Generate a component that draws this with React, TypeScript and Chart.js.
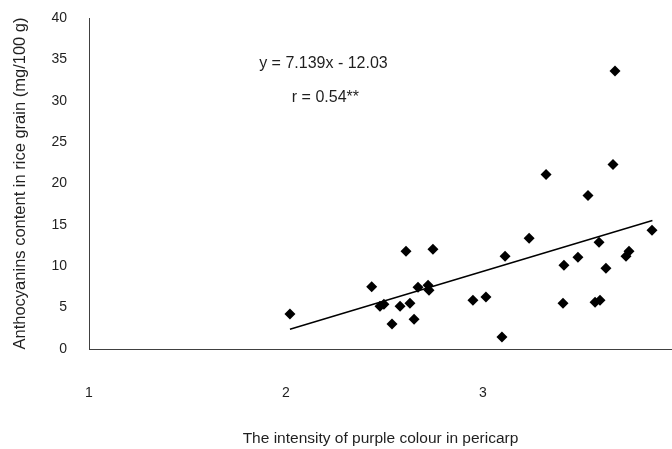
import React, { useEffect, useRef } from 'react';
import { Chart, registerables } from 'chart.js';

Chart.register(...registerables);

// Purple colour intensity (x) vs anthocyanin content (y)
const intensityValues = [
  2.02, 2.435, 2.477, 2.497, 2.538, 2.579, 2.609, 2.629, 2.65, 2.67, 2.721,
  2.726, 2.746, 2.949, 3.015, 3.096, 3.112, 3.234, 3.32, 3.406, 3.411, 3.482,
  3.533, 3.569, 3.589, 3.594, 3.624, 3.66, 3.67, 3.726, 3.741, 3.858,
];
const anthocyaninValues = [
  4.22, 7.51, 5.18, 5.42, 3.01, 5.18, 11.81, 5.54, 3.61, 7.47, 7.71,
  7.11, 12.05, 5.9, 6.27, 1.45, 11.2, 13.37, 21.08, 5.54, 10.12, 11.08,
  18.55, 5.66, 12.89, 5.9, 9.76, 22.29, 33.61, 11.2, 11.81, 14.34,
];
// Linear trend line end points (y = 7.139x - 12.03)
const trendX = [2.02, 3.86];
const trendY = [2.39, 15.53];

const xTickValues = [1, 2, 3, 4];
const yTickValues = [0, 5, 10, 15, 20, 25, 30, 35, 40];

const equationLabel = 'y = 7.139x - 12.03';
const correlationLabel = 'r = 0.54**';
const xAxisTitle = 'The intensity of purple colour in pericarp';
const yAxisTitle = 'Anthocyanins content in rice grain (mg/100 g)';

const FONT = "'Liberation Sans', Arial, sans-serif";
const TEXT = '#1f1f1f';

export default function App() {
  const ref = useRef<HTMLCanvasElement | null>(null);

  useEffect(() => {
    if (!ref.current) return;
    const annotation = {
      id: 'annotation',
      afterDatasetsDraw(chart: any) {
        const { ctx, scales } = chart;
        ctx.save();
        ctx.fillStyle = TEXT;
        ctx.font = `16px ${FONT}`;
        ctx.textAlign = 'center';
        ctx.textBaseline = 'middle';
        ctx.fillText(equationLabel, scales.x.getPixelForValue(2.19), scales.y.getPixelForValue(34.5));
        ctx.fillText(correlationLabel, scales.x.getPixelForValue(2.2), scales.y.getPixelForValue(30.4));
        ctx.restore();
      },
    };

    const chart = new Chart(ref.current, {
      type: 'scatter',
      data: {
        datasets: [
          {
            data: intensityValues.map((x, i) => ({ x, y: anthocyaninValues[i] })),
            pointStyle: 'rectRot',
            pointRadius: 5.5,
            pointBackgroundColor: '#000',
            pointBorderColor: '#000',
            pointBorderWidth: 0,
            showLine: false,
          },
          {
            type: 'line',
            data: trendX.map((x, i) => ({ x, y: trendY[i] })),
            borderColor: '#000',
            borderWidth: 1.5,
            pointRadius: 0,
            fill: false,
          } as any,
        ],
      },
      options: {
        animation: false,
        responsive: false,
        maintainAspectRatio: false,
        layout: { autoPadding: false, padding: { left: 0, right: 0, top: 18, bottom: 0 } },
        plugins: { legend: { display: false }, tooltip: { enabled: false } },
        scales: {
          x: {
            type: 'linear',
            min: 1,
            max: 1 + 583 / 197,
            grid: { display: false, drawTicks: false },
            border: { display: true, color: '#404040', width: 1 },
            ticks: {
              padding: 36,
              color: TEXT,
              font: { family: FONT, size: 14 },
            },
            title: {
              display: true,
              text: xAxisTitle,
              color: TEXT,
              font: { family: FONT, size: 15.5 },
              padding: { top: 0, bottom: 1 },
            },
            afterBuildTicks: (s: any) => {
              s.ticks = xTickValues.map((v) => ({ value: v }));
            },
            afterFit: (s: any) => {
              s.height = 100;
              s.paddingLeft = 0;
              s.paddingRight = 0;
            },
          },
          y: {
            type: 'linear',
            min: 0,
            max: 40,
            grid: { display: false, drawTicks: false },
            border: { display: true, color: '#404040', width: 1 },
            ticks: {
              padding: 22,
              color: TEXT,
              font: { family: FONT, size: 14 },
            },
            title: {
              display: true,
              text: yAxisTitle,
              color: TEXT,
              font: { family: FONT, size: 16.5 },
              padding: { top: 11, bottom: 0 },
            },
            afterBuildTicks: (s: any) => {
              s.ticks = yTickValues.map((v) => ({ value: v }));
            },
            afterFit: (s: any) => {
              s.width = 89;
              s.paddingTop = 0;
              s.paddingBottom = 0;
            },
          },
        },
      },
      plugins: [annotation],
    });
    return () => chart.destroy();
  }, []);

  return (
    <div style={{ position: 'fixed', left: 0, top: 0, width: 672, height: 449, background: '#fff' }}>
      <canvas ref={ref} width={672} height={449} style={{ width: 672, height: 449 }} />
    </div>
  );
}
